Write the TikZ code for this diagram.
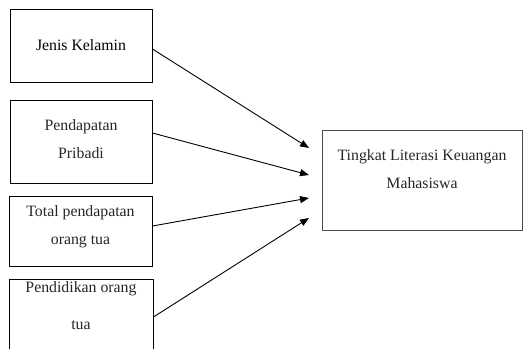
\documentclass[tikz,border=0pt]{standalone}
\usepackage{fontspec}
\setmainfont{Liberation Serif}
\usetikzlibrary{arrows.meta,positioning}

\begin{document}
\begin{tikzpicture}[
  x=1pt, y=-1pt,
  box/.style={draw=#1, line width=0.9pt, align=center, inner sep=0pt,
              font=\fontsize{15.8}{28}\selectfont, text=black!85},
  box/.default=black,
  arr/.style={-{Triangle[length=9pt,width=7pt]}, line width=0.9pt}]
\useasboundingbox (0,0) rectangle (524,348);
\node[box, minimum width=142pt, minimum height=73pt, text=black] (jk) at (81,45.5) {Jenis Kelamin};
\node[box, minimum width=142pt, minimum height=83pt, text depth=4pt] (pp) at (81,141.5) {Pendapatan\\Pribadi};
\node[box, minimum width=143pt, minimum height=70pt, text depth=11pt] (tp) at (80.5,231) {Total pendapatan\\orang tua};
\node[box, minimum width=144pt, minimum height=82pt, text depth=28pt] (po) at (81,320) {Pendidikan orang\\[9pt]tua};
\node[box=black!70, minimum width=200pt, minimum height=99.5pt, text depth=23pt] (tl) at (422,180.5) {Tingkat Literasi Keuangan\\Mahasiswa};
% ujung panah
\coordinate (t1) at (309,148);
\coordinate (t2) at (309,175);
\coordinate (t3) at (309,198);
\coordinate (t4) at (309,218);
\draw[arr] ([yshift=-3.5pt]jk.east) -- (t1);
\draw[arr] ([yshift=8.5pt]pp.east) -- (t2);
\draw[arr] ([yshift=5pt]tp.east) -- (t3);
\draw[arr] ([yshift=3pt]po.east) -- (t4);
\end{tikzpicture}
\end{document}
